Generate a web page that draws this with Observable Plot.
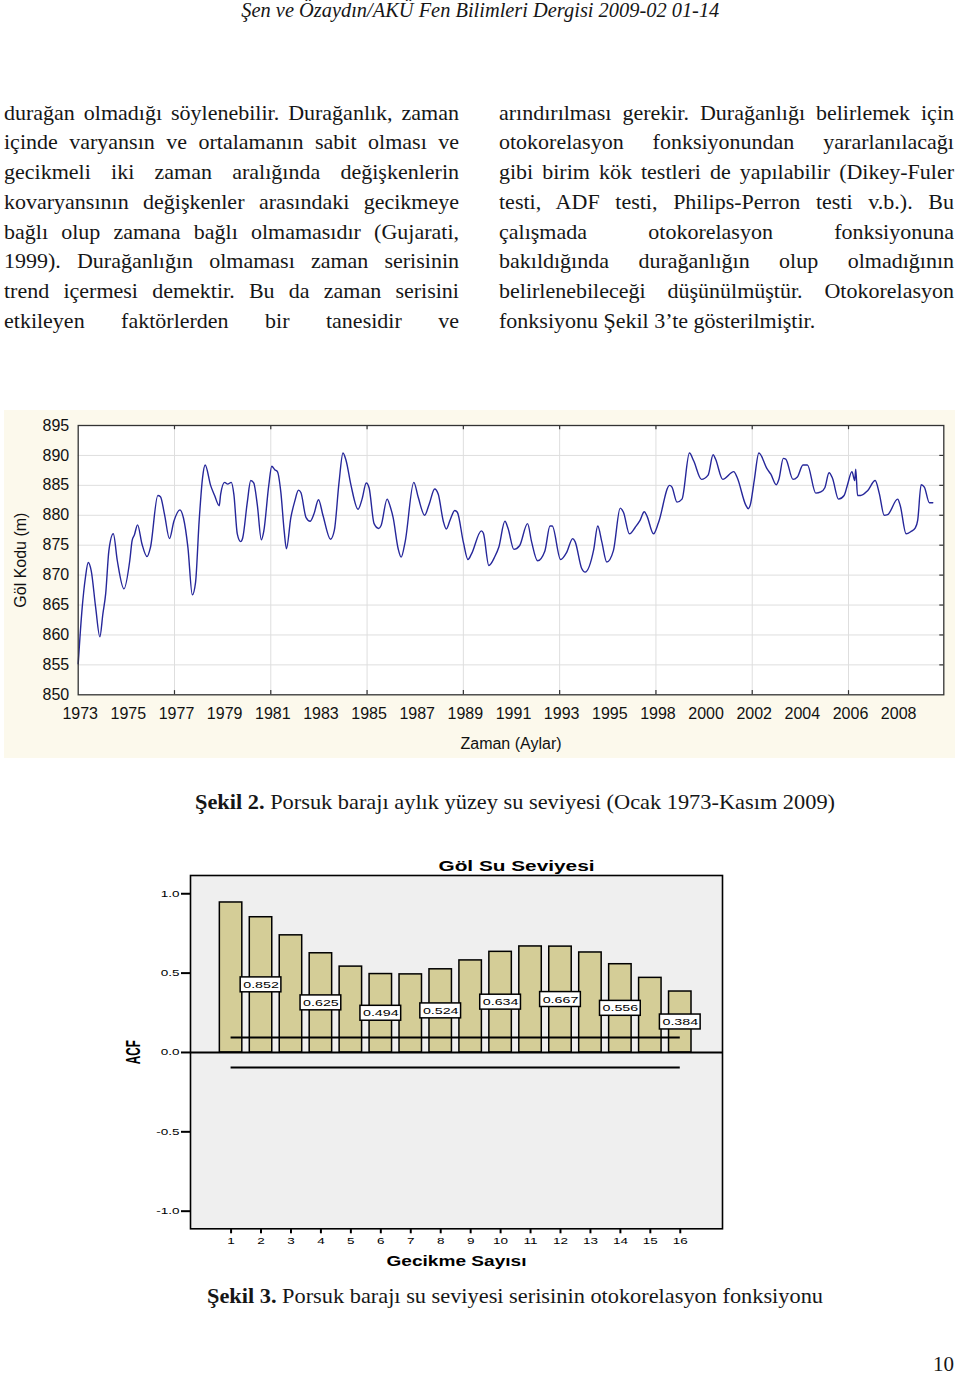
<!DOCTYPE html>
<html><head><meta charset="utf-8">
<script src="https://cdn.jsdelivr.net/npm/d3@7"></script>
<script src="https://cdn.jsdelivr.net/npm/@observablehq/plot@0.6"></script>
<style>
html,body{margin:0;padding:0}
body{width:960px;height:1374px;position:relative;background:#fff;overflow:hidden;
  font-family:"Liberation Serif","Times New Roman",serif;color:#161616}
.abs{position:absolute;white-space:nowrap}
.col{position:absolute;width:455px;font-size:22px;line-height:29.76px}
.col div{text-align:justify;text-align-last:justify;height:29.76px;overflow:visible}
.col div.last{text-align:left;text-align-last:left}
#chart1{position:absolute;left:4px;top:410px;width:951px;height:348px;background:#fcf9ec}
#chart2{position:absolute;left:110px;top:850px}
.cap span{display:inline-block;transform-origin:0 0}
</style></head>
<body>
<div id="header" class="abs" style="top:-0.5px;left:0;width:960px;text-align:center;font-style:italic;font-size:20px;line-height:20px"><span>Şen ve Özaydın/AKÜ Fen Bilimleri Dergisi 2009-02 01-14</span></div>
<div class="col" id="colL" style="left:4px;top:97.7px"></div>
<div class="col" id="colR" style="left:499px;top:97.7px"></div>
<div id="chart1"></div>
<div id="cap2" class="abs cap" style="top:792px;left:195px;font-size:21.5px;line-height:21.5px"><span><b>Şekil 2.</b> Porsuk barajı aylık yüzey su seviyesi (Ocak 1973-Kasım 2009)</span></div>
<div id="chart2"></div>
<div id="cap3" class="abs cap" style="top:1286px;left:207px;font-size:21.5px;line-height:21.5px"><span><b>Şekil 3.</b> Porsuk barajı su seviyesi serisinin otokorelasyon fonksiyonu</span></div>
<div class="abs" style="top:1354.4px;right:6px;font-size:21px;line-height:21px">10</div>
<script>
// ---------- text ----------
const leftLines = [
  "durağan olmadığı söylenebilir. Durağanlık, zaman",
  "içinde varyansın ve ortalamanın sabit olması ve",
  "gecikmeli iki zaman aralığında değişkenlerin",
  "kovaryansının değişkenler arasındaki gecikmeye",
  "bağlı olup zamana bağlı olmamasıdır (Gujarati,",
  "1999). Durağanlığın olmaması zaman serisinin",
  "trend içermesi demektir. Bu da zaman serisini",
  "etkileyen faktörlerden bir tanesidir ve"
];
const rightLines = [
  "arındırılması gerekir. Durağanlığı belirlemek için",
  "otokorelasyon fonksiyonundan yararlanılacağı",
  "gibi birim kök testleri de yapılabilir (Dikey-Fuler",
  "testi, ADF testi, Philips-Perron testi v.b.). Bu",
  "çalışmada otokorelasyon fonksiyonuna",
  "bakıldığında durağanlığın olup olmadığının",
  "belirlenebileceği düşünülmüştür. Otokorelasyon",
  "fonksiyonu Şekil 3’te gösterilmiştir."
];

// ---------- chart 1: monthly lake level ----------
const monthIndex = [0,2,3.6,5,6.5,8.7,10.8,12.3,13.7,15.3,17.5,19.5,22.8,25.7,26.9,28,29.6,31.8,34.3,36,39.7,41,43,45.5,47.7,50.7,52.5,54.7,56.9,58.5,60.3,62,63.3,66,68,70.3,71,73,74.5,76.3,77.6,79.3,81,82,84.3,86,87.5,89.3,91.3,92.5,95,96.5,98,99.3,101,102.7,103.8,106,108,109.8,111,113.6,115.6,117.5,119.8,122,125.8,127.7,130,132,133.5,136,139.5,141.5,143.6,145,147.5,149.8,151,154,155.5,157,159.5,161,163,167.3,169.5,172.7,175,177.7,179.5,182,183.5,185.5,187.7,189,192,194.3,196,201,202,204.7,207.7,209.7,212.7,214.3,217.2,220,224,226,229,232.6,235.2,236.3,240.5,243.5,246.5,247.7,251,252.7,257,259,261,263.5,266.8,270.2,271.8,274.8,277.7,280,282.2,283.5,286.8,289.3,294.8,296,298.5,301,304.7,306.8,310.7,314,316.5,317.7,321.3,326.8,328.5,332.8,334,335,337,339.3,343.5,345.2,348,349.3,351.5,352.7,356.3,358.5,361.3,363.5,367.7,370.2,372.2,374.3,376,379,381.8,383.5,385.7,387.1,387.6,388.5,390,393.5,397.3,399.3,401.8,403.5,408.5,409.8,412.7,415.2,417.3,418.5,420.2,421.8,424.3,426];
const lakeLevel = [855.2,864.6,869.6,872.1,870.7,864.6,859.7,863.5,866.9,874.1,876.9,872.4,867.7,872.4,875.8,876.7,878.4,875.2,873.1,874.6,883.3,883.1,880.2,876.1,879.0,880.9,879.5,874.6,866.7,868.8,879.1,886.3,888.4,885.0,883.3,881.6,883.5,885.5,885.2,885.5,883.5,876.9,875.6,876.2,882.2,885.8,885.4,881.7,875.9,877.3,885.0,888.2,887.6,887.3,883.9,877.3,874.4,879.6,882.4,884.2,883.8,879.6,879.0,880.2,882.6,880.0,876.0,877.5,885.4,890.4,889.2,885.0,881.0,882.7,885.4,884.6,878.6,877.8,878.3,882.7,881.5,879.6,874.4,873.0,875.6,885.5,883.0,880.0,881.9,884.4,883.5,879.0,877.7,879.3,880.8,880.5,875.5,872.6,873.5,877.4,877.0,871.6,873.1,874.7,879.0,877.8,874.3,874.9,878.6,875.6,872.4,874.0,878.2,878.2,872.6,873.8,876.1,875.6,871.1,870.5,874.3,878.2,875.6,872.2,874.1,881.2,880.5,876.9,878.0,879.1,880.6,879.9,876.9,878.8,885.0,884.7,882.2,882.7,890.4,889.1,886.0,886.7,890.1,889.4,886.0,887.3,886.3,881.7,881.1,881.7,885.8,890.4,887.7,886.9,885.1,886.0,889.5,889.4,886.0,886.4,888.4,888.4,883.7,883.9,884.6,887.1,886.2,882.7,883.3,885.1,887.3,885.8,887.7,883.3,883.3,884.1,885.8,883.7,880.0,880.1,882.7,881.6,876.9,877.3,877.9,879.2,885.1,884.7,882.1,882.1];
const yearTickIndex = d3.range(0, 409, 24);
const yearTickLabels = ["1973","1975","1977","1979","1981","1983","1985","1987","1989","1991","1993","1995","1998","2000","2002","2004","2006","2008"];
const levelTicks = [850,855,860,865,870,875,880,885,890,895];
const gridIndex = [48,96,144,192,240,288,336,384];

// ---------- chart 2: ACF ----------
const lags = [1,2,3,4,5,6,7,8,9,10,11,12,13,14,15,16];
const acfValues = [0.945,0.852,0.738,0.625,0.541,0.494,0.492,0.524,0.580,0.634,0.668,0.667,0.630,0.556,0.470,0.384];
const labelledLags = [2,4,6,8,10,12,14,16];
const confidenceLimit = 0.095;
const acfTicks = [-1,-0.5,0,0.5,1];
const acfTickLabels = ["-1.0","-0.5","0.0","0.5","1.0"];

// ---------- body text ----------
function fillCol(id, lines){
  const el = document.getElementById(id);
  lines.forEach((t,i)=>{const d=document.createElement("div");d.textContent=t;if(i===lines.length-1&&id==="colR")d.className="last";el.appendChild(d);});
}
fillCol("colL", leftLines);
fillCol("colR", rightLines);
function fitWidth(id, w){
  const s = document.querySelector("#"+id+" span");
  s.style.display="inline-block";
  const k = w / s.getBoundingClientRect().width;
  s.style.transform = `scaleX(${k})`;
}

// ---------- draw chart 1 ----------
const series = monthIndex.map((m,i)=>({m, v: lakeLevel[i]}));
const xMax = 431.5;
const c1 = Plot.plot({
  width: 951, height: 348,
  marginLeft: 73.7, marginRight: 11.7, marginTop: 15, marginBottom: 63.7,
  style: {background: "transparent", fontFamily: "'Liberation Sans', Arial, sans-serif", color: "#111"},
  x: {domain: [0, xMax], label: null},
  y: {domain: [850, 895], label: null},
  marks: [
    Plot.frame({fill: "#fff"}),
    Plot.ruleX(gridIndex, {stroke: "#dedede", strokeWidth: 1}),
    Plot.ruleY(levelTicks.slice(1,-1), {stroke: "#dedede", strokeWidth: 1}),
    Plot.ruleX(gridIndex, {y1: () => 895, y2: () => 894.3, stroke: "#333", strokeWidth: 1.2}),
    Plot.ruleX(gridIndex, {y1: () => 850, y2: () => 850.7, stroke: "#333", strokeWidth: 1.2}),
    Plot.ruleY(levelTicks.slice(1,-1), {x1: () => xMax, x2: () => xMax - 2, stroke: "#333", strokeWidth: 1.2}),
    Plot.line(series, {x: "m", y: "v", stroke: "#26279a", strokeWidth: 1.4, curve: "monotone-x"}),
    Plot.frame({stroke: "#333", strokeWidth: 1.3}),
    Plot.axisY({ticks: levelTicks, tickSize: 0, tickPadding: 9, fontSize: 16, label: null}),
    Plot.axisX({ticks: yearTickIndex, tickFormat: d => yearTickLabels[yearTickIndex.indexOf(d)], tickSize: 0, tickPadding: 13, dx: 2, fontSize: 16, label: null}),
    Plot.text(["Zaman (Aylar)"], {frameAnchor: "bottom", lineAnchor: "middle", textAnchor: "middle", dy: 49, fontSize: 16, fill: "#111"}),
    Plot.text(["Göl Kodu (m)"], {frameAnchor: "left", lineAnchor: "middle", textAnchor: "middle", dx: -57, rotate: -90, fontSize: 16, fill: "#111"})
  ]
});
document.getElementById("chart1").appendChild(c1);

// ---------- draw chart 2 ----------
const acfData = lags.map((l,i)=>({lag: l, acf: acfValues[i]}));
const acfLabelled = acfData.filter(d => labelledLags.includes(d.lag));
const c2 = Plot.plot({
  width: 630, height: 425,
  marginLeft: 80, marginRight: 18, marginTop: 25, marginBottom: 46.7,
  style: {background: "transparent", fontFamily: "'Liberation Sans', Arial, sans-serif", color: "#000"},
  x: {domain: [-0.355, 17.41], label: null},
  y: {domain: [-1.111, 1.115], label: null},
  marks: [
    Plot.frame({fill: "#efefef"}),
    Plot.rectY(acfData, {x1: d => d.lag - 0.375, x2: d => d.lag + 0.375, y: "acf", fill: "#d4cd97", stroke: "#000", strokeWidth: 1.5}),
    Plot.ruleY([confidenceLimit, -confidenceLimit], {x1: () => lags[0], x2: () => lags[lags.length-1], stroke: "#000", strokeWidth: 2}),
    Plot.ruleY([0], {stroke: "#000", strokeWidth: 2}),
    Plot.rect(acfLabelled, {x1: d => d.lag - 0.68, x2: d => d.lag + 0.68, y1: d => d.acf/2 - 0.047, y2: d => d.acf/2 + 0.047, fill: "#fff", stroke: "#000", strokeWidth: 1.5}),
    Plot.text(acfLabelled, {x: "lag", y: d => d.acf/2, text: d => d.acf.toFixed(3), fontSize: 9.5, fill: "#000"}),
    Plot.frame({stroke: "#000", strokeWidth: 1.6}),
    Plot.axisY({ticks: acfTicks, tickFormat: d => acfTickLabels[acfTicks.indexOf(d)], tickSize: 9, tickPadding: 2, strokeWidth: 2, fontSize: 9, label: null}),
    Plot.axisX({ticks: lags, tickSize: 5, tickPadding: 4, strokeWidth: 2, fontSize: 9, label: null}),
    Plot.text(["Göl Su Seviyesi"], {frameAnchor: "top", lineAnchor: "middle", textAnchor: "middle", dy: -9, dx: 60, fontSize: 14, fontWeight: "bold", fill: "#000"}),
    Plot.text(["Gecikme Sayısı"], {frameAnchor: "bottom", lineAnchor: "middle", textAnchor: "middle", dy: 32.7, fontSize: 14, fontWeight: "bold", fill: "#000"}),
    Plot.text(["ACF"], {frameAnchor: "left", lineAnchor: "middle", textAnchor: "middle", dx: -57, rotate: -90, fontSize: 20, fontWeight: "bold", fill: "#000"})
  ]
});
document.getElementById("chart2").appendChild(c2);

// horizontal stretch of the SPSS chart's texts
const fixed = {"Göl Su Seviyesi": 156, "Gecikme Sayısı": 140, "ACF": 24};
c2.querySelectorAll("text").forEach(t => {
  const s = t.textContent;
  let w = null;
  if (fixed[s] != null) w = fixed[s];
  else w = t.getComputedTextLength() * 1.5;
  t.setAttribute("textLength", w);
  t.setAttribute("lengthAdjust", "spacingAndGlyphs");
});

fitWidth("header", 478);
fitWidth("cap2", 640);
fitWidth("cap3", 616);
</script>
</body></html>
